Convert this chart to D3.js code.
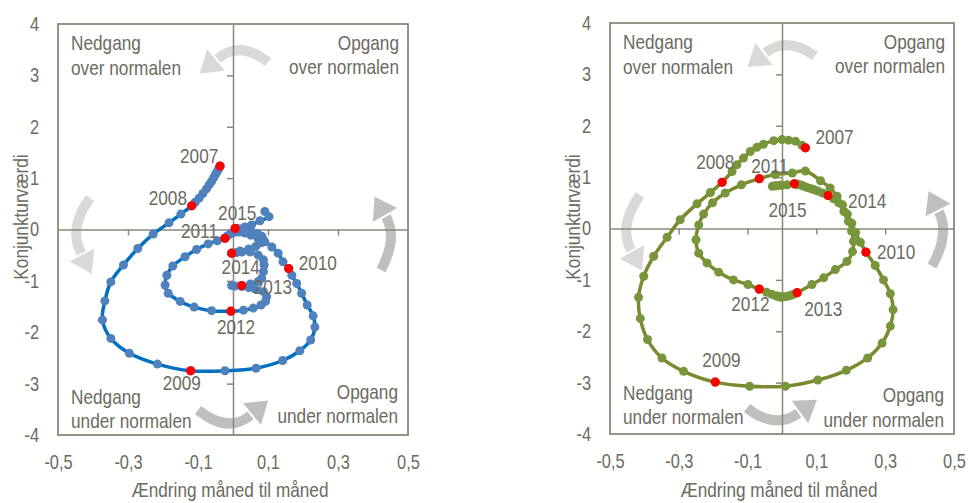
<!DOCTYPE html>
<html>
<head>
<meta charset="utf-8">
<script src="https://cdn.jsdelivr.net/npm/d3@7"></script>
<style>
  body { margin: 0; background: #fff; }
  svg { display: block; }
</style>
</head>
<body>
<script>
// years marked in red, one every 12 months
const years = ["2007", "2008", "2009", "2010", "2011", "2012", "2013", "2014", "2015"];

// left panel: monthly points, change month to month (x) and level (y)
const leftX = [
  -0.037, -0.039, -0.042, -0.046, -0.050, -0.055, -0.061, -0.068, -0.076, -0.086, -0.097, -0.108,
  -0.118, -0.149, -0.183, -0.228, -0.272, -0.313, -0.349, -0.366, -0.373, -0.349, -0.296, -0.216,
  -0.121, -0.023, 0.066, 0.142, 0.191, 0.222, 0.234, 0.229, 0.212, 0.196, 0.182, 0.168,
  0.159, 0.143, 0.129, 0.111, 0.091, 0.071, 0.051, 0.034, 0.017, 0.003, -0.009, -0.017,
  -0.023, -0.045, -0.071, -0.104, -0.137, -0.172, -0.189, -0.194, -0.185, -0.151, -0.111, -0.061,
  -0.006, 0.030, 0.058, 0.080, 0.093, 0.096, 0.087, 0.063, 0.045, 0.025, 0.005, -0.004,
  0.025, 0.050, 0.072, 0.082, 0.087, 0.089, 0.087, 0.072, 0.049, 0.025, 0.010, 0.000,
  -0.004, 0.020, 0.045, 0.065, 0.080, 0.086, 0.082, 0.070, 0.052, 0.035, 0.020, 0.012,
  0.006, 0.034, 0.053, 0.077, 0.103, 0.091
];
const leftY = [
  1.235, 1.21, 1.17, 1.12, 1.07, 1.01, 0.94, 0.87, 0.79, 0.70, 0.61, 0.53,
  0.46, 0.30, 0.13, -0.09, -0.37, -0.69, -1.02, -1.39, -1.76, -2.12, -2.41, -2.62,
  -2.75, -2.75, -2.70, -2.55, -2.36, -2.15, -1.90, -1.68, -1.47, -1.24, -1.05, -0.89,
  -0.76, -0.63, -0.46, -0.34, -0.24, -0.17, -0.11, -0.07, -0.05, -0.06, -0.09, -0.13,
  -0.17, -0.22, -0.28, -0.39, -0.53, -0.71, -0.89, -1.08, -1.24, -1.40, -1.51, -1.58,
  -1.59, -1.57, -1.53, -1.47, -1.40, -1.31, -1.21, -1.16, -1.13, -1.11, -1.10, -1.09,
  -1.09, -1.06, -1.01, -0.95, -0.82, -0.69, -0.59, -0.50, -0.44, -0.44, -0.45, -0.46,
  -0.46, -0.42, -0.38, -0.33, -0.26, -0.19, -0.13, -0.08, -0.04, -0.01, 0.01, 0.02,
  0.02, 0.05, 0.09, 0.17, 0.25, 0.35
];

// right panel
const rightX = [
  0.068, 0.058, 0.039, 0.019, 0.000, -0.024, -0.054, -0.073, -0.092, -0.112, -0.131, -0.145,
  -0.174, -0.208, -0.247, -0.296, -0.334, -0.373, -0.402, -0.417, -0.412, -0.391, -0.349, -0.286,
  -0.194, -0.094, 0.010, 0.104, 0.187, 0.249, 0.291, 0.315, 0.323, 0.315, 0.295, 0.271,
  0.244, 0.228, 0.214, 0.203, 0.190, 0.176, 0.160, 0.140, 0.112, 0.068, 0.030, -0.020,
  -0.066, -0.118, -0.165, -0.202, -0.228, -0.242, -0.250, -0.242, -0.218, -0.184, -0.141, -0.099,
  -0.066, -0.045, -0.030, -0.018, -0.008, -0.002, -0.012, -0.004, 0.006, 0.016, 0.026, 0.034,
  0.044, 0.087, 0.121, 0.155, 0.189, 0.205, 0.208, 0.202, 0.193, 0.180, 0.165, 0.150,
  0.134, 0.118, 0.104, 0.092, 0.082, 0.072, 0.064, 0.057, 0.050, 0.045, 0.041, 0.038,
  0.036, 0.015, -0.005, -0.020, -0.028, -0.015, 0.000
];
const rightY = [
  1.57, 1.62, 1.70, 1.72, 1.73, 1.71, 1.64, 1.58, 1.50, 1.37, 1.24, 1.11,
  0.90, 0.70, 0.48, 0.17, -0.17, -0.54, -0.93, -1.34, -1.75, -2.16, -2.52, -2.78,
  -2.99, -3.07, -3.07, -2.95, -2.76, -2.52, -2.23, -1.90, -1.58, -1.27, -1.00, -0.72,
  -0.46, -0.27, -0.08, 0.10, 0.28, 0.46, 0.63, 0.79, 0.93, 1.12, 1.08, 1.05,
  0.97, 0.85, 0.69, 0.50, 0.28, 0.07, -0.22, -0.48, -0.67, -0.85, -1.00, -1.09,
  -1.18, -1.24, -1.28, -1.31, -1.33, -1.34, -1.32, -1.33, -1.33, -1.32, -1.30, -1.28,
  -1.25, -1.09, -0.96, -0.80, -0.64, -0.45, -0.25, -0.05, 0.14, 0.33, 0.50, 0.58,
  0.64, 0.69, 0.73, 0.76, 0.78, 0.80, 0.82, 0.84, 0.85, 0.86, 0.86, 0.87,
  0.87, 0.85, 0.84, 0.83, 0.82, 0.83, 0.84
];

const xTickLabels = [-0.5, -0.3, -0.1, 0.1, 0.3, 0.5];
const xTickMarks = [-0.3, -0.1, 0.1, 0.3];
const yTickLabels = [-4, -3, -2, -1, 0, 1, 2, 3, 4];
const yTickMarks = [-3, -2, -1, 1, 2, 3];

const xTitle = "Ændring måned til måned";
const yTitle = "Konjunkturværdi";
const quadNW = ["Nedgang", "over normalen"];
const quadNE = ["Opgang", "over normalen"];
const quadSW = ["Nedgang", "under normalen"];
const quadSE = ["Opgang", "under normalen"];

const W = 968, H = 503;
const textC = "#6b6b5f", lineC = "#88887c";
const FONT = "'Liberation Sans', Arial, sans-serif";
const SX = 0.82; // squeeze Liberation Sans into an Arial Narrow look

const svg = d3.select("body").append("svg")
  .attr("width", W)
  .attr("height", H)
  .attr("font-family", FONT);

const loc = d3.formatLocale({decimal: ",", thousands: ".", grouping: [3], currency: ["", " kr"], minus: "-"});
const fmtX = loc.format(".1f");
const fmtY = loc.format("d");

// narrow text at (x, y), vertically centred
function ntext(g, x, y, str, size, anchor, rot) {
  return g.append("text")
    .attr("transform", `translate(${x},${y})${rot ? " rotate(" + rot + ")" : ""} scale(${SX},1)`)
    .attr("dy", "0.35em")
    .attr("text-anchor", anchor)
    .attr("font-size", size)
    .attr("fill", textC)
    .text(str);
}

function arrow(g, a) {
  // quadratic body, triangle head pointing along the end tangent
  const dx = a.end[0] - a.ctrl[0], dy = a.end[1] - a.ctrl[1];
  const len = Math.hypot(dx, dy), ux = dx / len, uy = dy / len;
  const tip = [a.end[0] + ux * 21, a.end[1] + uy * 21];
  const b1 = [a.end[0] - uy * 14, a.end[1] + ux * 14];
  const b2 = [a.end[0] + uy * 14, a.end[1] - ux * 14];
  g.append("path")
    .attr("d", `M${a.start}Q${a.ctrl} ${[a.end[0] - ux * 2, a.end[1] - uy * 2]}`)
    .attr("fill", "none")
    .attr("stroke", a.color)
    .attr("stroke-width", 10);
  g.append("path")
    .attr("d", `M${tip}L${b1}L${b2}Z`)
    .attr("fill", a.color);
}

function panel(p) {
  const x = d3.scaleLinear().domain([-0.5, 0.5]).range([p.x0, p.x1]);
  const y = d3.scaleLinear().domain([-4, 4]).range([p.y1, p.y0]);
  const g = svg.append("g");

  // arrows sit behind everything
  p.arrows.forEach(a => arrow(g, a));

  g.append("rect")
    .attr("x", p.x0).attr("y", p.y0)
    .attr("width", p.x1 - p.x0).attr("height", p.y1 - p.y0)
    .attr("fill", "none")
    .attr("stroke", lineC)
    .attr("stroke-width", 1.8);

  // zero lines with small ticks
  g.append("g")
    .attr("transform", `translate(0,${y(0)})`)
    .call(d3.axisBottom(x).tickValues(xTickMarks).tickSize(6).tickSizeOuter(0).tickFormat(""))
    .attr("color", lineC)
    .call(s => s.selectAll("path,line").attr("stroke-width", 1.5));
  g.append("g")
    .attr("transform", `translate(${x(0)},0)`)
    .call(d3.axisLeft(y).tickValues(yTickMarks).tickSize(6).tickSizeOuter(0).tickFormat(""))
    .attr("color", lineC)
    .call(s => s.selectAll("path,line").attr("stroke-width", 1.5));

  // tick labels outside the box
  g.append("g")
    .attr("transform", `translate(${p.x0},0)`)
    .call(d3.axisLeft(y).tickValues(yTickLabels).tickSize(0).tickPadding(19).tickFormat(fmtY))
    .call(s => s.select(".domain").remove())
    .attr("font-family", FONT).attr("font-size", 20).attr("color", textC)
    .call(s => s.selectAll("text").attr("x", -19 / SX).attr("transform", `scale(${SX},1)`));
  g.append("g")
    .attr("transform", `translate(0,${p.y1})`)
    .call(d3.axisBottom(x).tickValues(xTickLabels).tickSize(0).tickPadding(20).tickFormat(fmtX))
    .call(s => s.select(".domain").remove())
    .attr("font-family", FONT).attr("font-size", 20).attr("color", textC)
    .call(s => s.selectAll("text").attr("transform", `scale(${SX},1)`));

  // axis titles
  ntext(g, (p.x0 + p.x1) / 2 - 3, 490, xTitle, 21, "middle");
  ntext(g, p.x0 - 37, 217, yTitle, 21, "middle", -90);

  // quadrant captions
  const q = (lines, xx, yy, anchor) => lines.forEach((t, i) => ntext(g, xx, yy[i], t, 21, anchor));
  q(quadNW, p.x0 + 13, [p.y0 + 19, p.y0 + 44], "start");
  q(quadNE, p.x1 - 9, [p.y0 + 19, p.y0 + 43], "end");
  q(quadSW, p.x0 + 13, p.q.sw, "start");
  q(quadSE, p.x1 - 10, p.q.se, "end");

  const idx = d3.range(p.xs.length);
  const line = d3.line()
    .x(i => x(p.xs[i]))
    .y(i => y(p.ys[i]))
    .curve(d3.curveCatmullRom.alpha(0.5));

  g.append("path")
    .datum(idx)
    .attr("d", line)
    .attr("fill", "none")
    .attr("stroke", p.lineColor)
    .attr("stroke-width", 3.5);

  g.selectAll(".dot")
    .data(idx)
    .join("circle")
    .attr("class", "dot")
    .attr("cx", i => x(p.xs[i]))
    .attr("cy", i => y(p.ys[i]))
    .attr("r", 4.5)
    .attr("fill", p.dotColor);

  const yearIdx = years.map((d, k) => k * 12);
  g.selectAll(".yr")
    .data(yearIdx)
    .join("circle")
    .attr("class", "yr")
    .attr("cx", i => x(p.xs[i]))
    .attr("cy", i => y(p.ys[i]))
    .attr("r", 4.6)
    .attr("fill", "#ff0000");

  years.forEach((d, k) => {
    ntext(g, x(p.xs[k * 12]) + p.lab[k][0], y(p.ys[k * 12]) + p.lab[k][1], d, 21, "start");
  });
}

panel({
  x0: 58, x1: 408, y0: 24, y1: 435,
  xs: leftX, ys: leftY,
  lineColor: "#0070c0", dotColor: "#4f81bd",
  q: {sw: [397, 421], se: [392, 416]},
  lab: [[-40, -10], [-43, -8], [-28, 12], [10, -6], [-44, -8], [-14, 15], [12, 1], [-10, 14], [-17, -16]],
  arrows: [
    {start: [268, 62], ctrl: [240, 40], end: [216, 60], color: "#d9d9d9"},
    {start: [90, 198], ctrl: [68, 228], end: [82, 255], color: "#d9d9d9"},
    {start: [381, 270], ctrl: [398, 238], end: [385, 215], color: "#bfbfbf"},
    {start: [198, 410], ctrl: [228, 434], end: [252, 414], color: "#bfbfbf"}
  ]
});

panel({
  x0: 610, x1: 954, y0: 23, y1: 434,
  xs: rightX, ys: rightY,
  lineColor: "#7b8a30", dotColor: "#77963c",
  q: {sw: [393, 417], se: [395, 420]},
  lab: [[10, -11], [-26, -21], [-13, -22], [11, 0], [-8, -13], [-28, 15], [7, 16], [20, 5], [-26, 26]],
  arrows: [
    {start: [815, 56], ctrl: [787, 36], end: [764, 54], color: "#d9d9d9"},
    {start: [640, 195], ctrl: [618, 226], end: [632, 252], color: "#d9d9d9"},
    {start: [932, 266], ctrl: [950, 234], end: [938, 210], color: "#bfbfbf"},
    {start: [747, 408], ctrl: [775, 430], end: [800, 412], color: "#bfbfbf"}
  ]
});
</script>
</body>
</html>
